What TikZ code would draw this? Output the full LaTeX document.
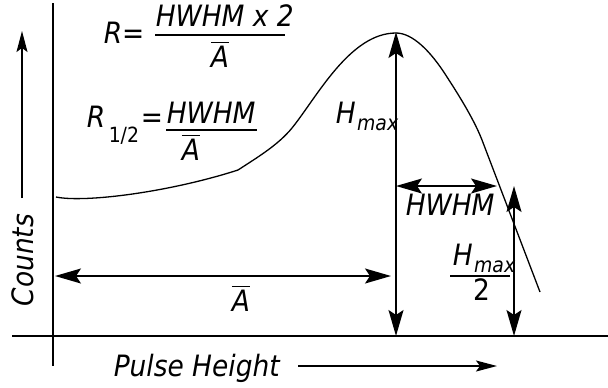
\documentclass[tikz,border=0pt]{standalone}
\usepackage{amsmath}
\usepackage{fontspec}
\setmainfont{DejaVu Sans Condensed}
\usetikzlibrary{arrows.meta}
\newcommand{\abar}{$\overline{\mbox{\itshape A}}$}

\begin{document}
\begin{tikzpicture}[x=1bp, y=-1bp, line width=1.5bp,
    >={Stealth[length=26bp, width=15bp, inset=5bp]},
    axistip/.tip={Stealth[length=21bp, width=11bp, inset=4bp]},
    lbl/.style={font=\fontsize{29.5}{34}\selectfont\itshape, inner sep=0pt, anchor=base west},
    sub/.style={font=\fontsize{21}{24}\selectfont\itshape, inner sep=0pt, anchor=base west},
    dimline/.style={<->},
    fracbar/.style={line width=1.4bp}]
  \useasboundingbox (0,0) rectangle (608,387);
  % axes
  \coordinate (ytop) at (53,3);
  \coordinate (ybot) at (53,366);
  \coordinate (xleft) at (12,336);
  \coordinate (xright) at (608,336);
  \draw (ytop) -- (ybot);
  \draw (xleft) -- (xright);
  % axis labels
  \node[lbl, rotate=90, anchor=center] (counts) at (23,260) {Counts};
  \coordinate (countsend) at (22,198);
  \coordinate (countstip) at (22,31);
  \draw[-axistip] (countsend) -- (countstip);
  \node[lbl] (pulse) at (113,376) {Pulse Height};
  \coordinate (pulsestart) at (298,366);
  \coordinate (pulsetip) at (497,366);
  \draw[-axistip] (pulsestart) -- (pulsetip);
  % spectrum
  \draw[line width=1.3bp] (56,197) .. controls (85,203) and (170,192) .. (238,170)
    .. controls (258,157) and (278,145) .. (292,128)
    .. controls (317,97) and (350,33) .. (396,33)
    .. controls (412,33) and (430,50) .. (447,77)
    .. controls (462,100) and (475,122) .. (482,140)
    -- (540,292);
  % dimension arrows
  \coordinate (peak) at (396,32);
  \coordinate (peakfoot) at (396,336);
  \coordinate (hwhmL) at (396,186);
  \coordinate (hwhmR) at (497,186);
  \coordinate (halftop) at (514,186);
  \coordinate (halffoot) at (514,336);
  \coordinate (aL) at (55,276);
  \coordinate (aR) at (391,276);
  \draw[dimline] (peak) -- (peakfoot);
  \draw[dimline] (hwhmL) -- (hwhmR);
  \draw[dimline] (halftop) -- (halffoot);
  \draw[dimline] (aL) -- (aR);
  % labels of the arrows
  \node[lbl] (hmaxH) at (335,123) {H};
  \node[sub] (hmaxsub) at (hmaxH.base east) [yshift=-7bp] {max};
  \node[lbl] (hwhm) at (405,215) {HWHM};
  \node[lbl, anchor=base] (abar) at (241,311) {\abar};
  % H_max / 2
  \node[lbl] (halfH) at (452,265) {H};
  \node[sub] (halfsub) at (halfH.base east) [yshift=-7bp] {max};
  \coordinate (halfbarL) at (450,276);
  \coordinate (halfbarR) at (510,276);
  \draw[fracbar] (halfbarL) -- (halfbarR);
  \node[lbl, anchor=base, font=\fontsize{29.5}{34}\selectfont] (two) at (482,300) {2};
  % R = HWHM x 2 / A
  \node[lbl] (rfull) at (103,43) {R=};
  \node[lbl] (rnum) at (155,26) {HWHM x 2};
  \coordinate (rbarL) at (155,35);
  \coordinate (rbarR) at (285,35);
  \draw[fracbar] (rbarL) -- (rbarR);
  \node[lbl, anchor=base] (rden) at (220,67) {\abar};
  % R_1/2 = HWHM / A
  \node[lbl] (rhalf) at (86,127) {R};
  \node[sub, font=\fontsize{21}{24}\selectfont] (rhalfsub) at (108,142) {1/2};
  \node[lbl] (rhalfeq) at (140,127) {=};
  \node[lbl] (hnum) at (166,123) {HWHM};
  \coordinate (hbarL) at (166,130);
  \coordinate (hbarR) at (257,130);
  \draw[fracbar] (hbarL) -- (hbarR);
  \node[lbl, anchor=base] (hden) at (191,160) {\abar};
\end{tikzpicture}
\end{document}
